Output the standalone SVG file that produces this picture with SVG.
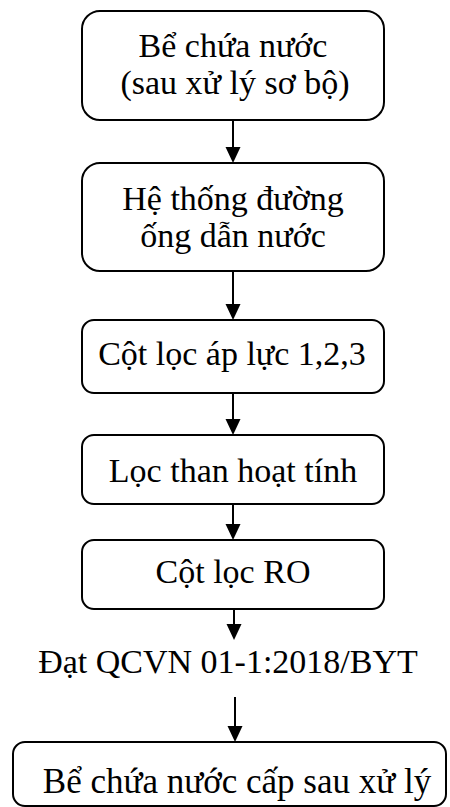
<svg xmlns="http://www.w3.org/2000/svg" width="450" height="807" viewBox="0 0 450 807">
  <style>
    .box { fill: #ffffff; stroke: #000000; stroke-width: 2; }
    .lbl { font-family: "Liberation Serif", "Times New Roman", serif; font-size: 34px; fill: #000000; text-anchor: middle; }
    .conn { stroke: #000000; stroke-width: 2; fill: none; }
    .head { fill: #000000; stroke: none; }
  </style>
  <rect width="450" height="807" fill="#ffffff"/>

  <g id="connectors">
    <line class="conn" x1="233" y1="120" x2="233" y2="148"/>
    <polygon class="head" points="225.5,147 240.5,147 233,163"/>
    <line class="conn" x1="233" y1="271" x2="233" y2="305"/>
    <polygon class="head" points="225.5,304 240.5,304 233,320"/>
    <line class="conn" x1="233" y1="393" x2="233" y2="420"/>
    <polygon class="head" points="225.5,419 240.5,419 233,435"/>
    <line class="conn" x1="233" y1="504" x2="233" y2="525"/>
    <polygon class="head" points="225.5,524 240.5,524 233,540"/>
    <line class="conn" x1="234" y1="609" x2="234" y2="625"/>
    <polygon class="head" points="226.5,624 241.5,624 234,640"/>
    <line class="conn" x1="235" y1="697" x2="235" y2="727"/>
    <polygon class="head" points="227.5,726 242.5,726 235,742"/>
  </g>

  <g id="node-be-chua">
    <rect class="box" x="82" y="11" width="302" height="109" rx="18" ry="18"/>
    <text class="lbl" x="233" y="57">Bể chứa nước</text>
    <text class="lbl" x="235" y="94">(sau xử lý sơ bộ)</text>
  </g>

  <g id="node-duong-ong">
    <rect class="box" x="82" y="163" width="302" height="108" rx="18" ry="18"/>
    <text class="lbl" x="233" y="210">Hệ thống đường</text>
    <text class="lbl" x="233" y="247">ống dẫn nước</text>
  </g>

  <g id="node-cot-loc-ap-luc">
    <rect class="box" x="82" y="320" width="302" height="73" rx="12" ry="12"/>
    <text class="lbl" x="232" y="365">Cột lọc áp lực 1,2,3</text>
  </g>

  <g id="node-than-hoat-tinh">
    <rect class="box" x="82" y="435" width="302" height="69" rx="12" ry="12"/>
    <text class="lbl" x="233" y="482">Lọc than hoạt tính</text>
  </g>

  <g id="node-ro">
    <rect class="box" x="82" y="540" width="302" height="69" rx="12" ry="12"/>
    <text class="lbl" x="233" y="583">Cột lọc RO</text>
  </g>

  <g id="node-qcvn">
    <text class="lbl" x="228" y="673">Đạt QCVN 01-1:2018/BYT</text>
  </g>

  <g id="node-be-cap">
    <rect class="box" x="13" y="742" width="433" height="64" rx="12" ry="12"/>
    <text class="lbl" x="237" y="793" style="font-size:35px">Bể chứa nước cấp sau xử lý</text>
  </g>
</svg>
